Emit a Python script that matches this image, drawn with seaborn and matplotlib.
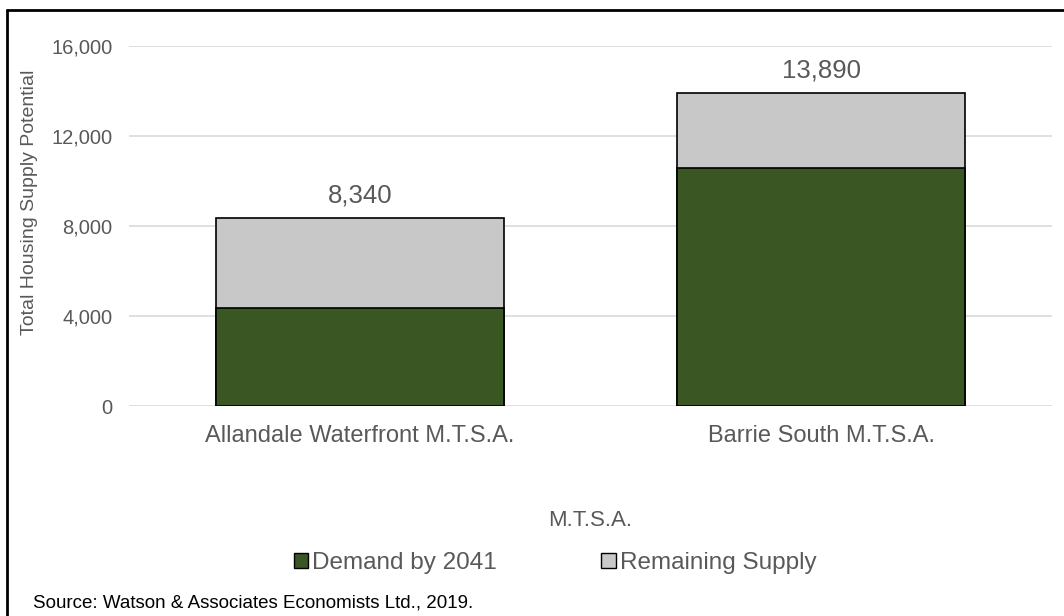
import matplotlib
matplotlib.use("Agg")
import matplotlib.pyplot as plt
from matplotlib.lines import Line2D
from matplotlib.patches import Patch
import seaborn as sns
import pandas as pd

categories = ["Allandale Waterfront M.T.S.A.", "Barrie South M.T.S.A."]
demand_2041 = [4360, 10580]
total_supply = [8340, 13890]
remaining_supply = [t - d for t, d in zip(total_supply, demand_2041)]
y_ticks = [0, 4000, 8000, 12000, 16000]

sns.set_theme(style="white")
plt.rcParams["font.family"] = ["Liberation Sans", "DejaVu Sans"]

GREEN = "#3A5622"
GREY = "#C8C8C8"
TEXT = "#595959"
GRID = "#D9D9D9"

df = pd.DataFrame({
    "mtsa": categories,
    "demand": demand_2041,
    "remaining": remaining_supply,
    "total": total_supply,
})

fig = plt.figure(figsize=(10.64, 6.16), dpi=100)
ax = fig.add_axes([129 / 1064, 1 - 406 / 616, 923 / 1064, 360 / 616])

# stacked bars: full total in grey, demand drawn over it in green
sns.barplot(data=df, x="mtsa", y="total", color=GREY, width=0.624,
            edgecolor="black", linewidth=1.2, saturation=1, ax=ax, zorder=2)
sns.barplot(data=df, x="mtsa", y="demand", color=GREEN, width=0.624,
            edgecolor="black", linewidth=1.2, saturation=1, ax=ax, zorder=3)

ax.set_ylim(0, 16000)
ax.set_yticks(y_ticks)
ax.set_yticklabels([f"{v:,}" for v in y_ticks], color=TEXT, fontsize=14.5)
ax.set_xlim(-0.5, 1.5)
ax.tick_params(axis="x", labelsize=17, labelcolor=TEXT, length=0, pad=14)
ax.tick_params(axis="y", length=0, pad=12)
ax.yaxis.grid(True, color=GRID, linewidth=1.2, zorder=0)
ax.set_axisbelow(True)
for s in ax.spines.values():
    s.set_visible(False)
ax.set_xlabel("")
ax.set_ylabel("")

for i, t in enumerate(total_supply):
    ax.annotate(f"{t:,}", (i, t), xytext=(0, 8), textcoords="offset points",
                ha="center", va="bottom", fontsize=18.5, color=TEXT)

fig.text(30 / 1064, 1 - 202 / 616, "Total Housing Supply Potential",
         rotation=90, ha="center", va="center", fontsize=14, color=TEXT)
fig.text(590 / 1064, 1 - 521 / 616, "M.T.S.A.", ha="center", va="center",
         fontsize=16, color=TEXT)

handles = [Patch(facecolor=GREEN, edgecolor="black", linewidth=1.0),
           Patch(facecolor=GREY, edgecolor="black", linewidth=1.0)]
fig.legend(handles, ["Demand by 2041", "Remaining Supply"], loc="center",
           bbox_to_anchor=(555 / 1064, 1 - 563 / 616), ncol=2, frameon=False,
           fontsize=17.5, labelcolor=TEXT, handlelength=0.6, handleheight=0.6,
           handletextpad=0.15, columnspacing=4.3)

fig.text(33 / 1064, 1 - 603 / 616, "Source: Watson & Associates Economists Ltd., 2019.",
         ha="left", va="center", fontsize=13.5, color="black")

# chart frame
fig.add_artist(Line2D([7 / 1064, 1.0], [1 - 9.5 / 616] * 2, color="black",
                      linewidth=2, transform=fig.transFigure))
fig.add_artist(Line2D([7 / 1064] * 2, [0.0, 1 - 9.5 / 616], color="black",
                      linewidth=2, transform=fig.transFigure))

fig.savefig("out.png", dpi=100)
